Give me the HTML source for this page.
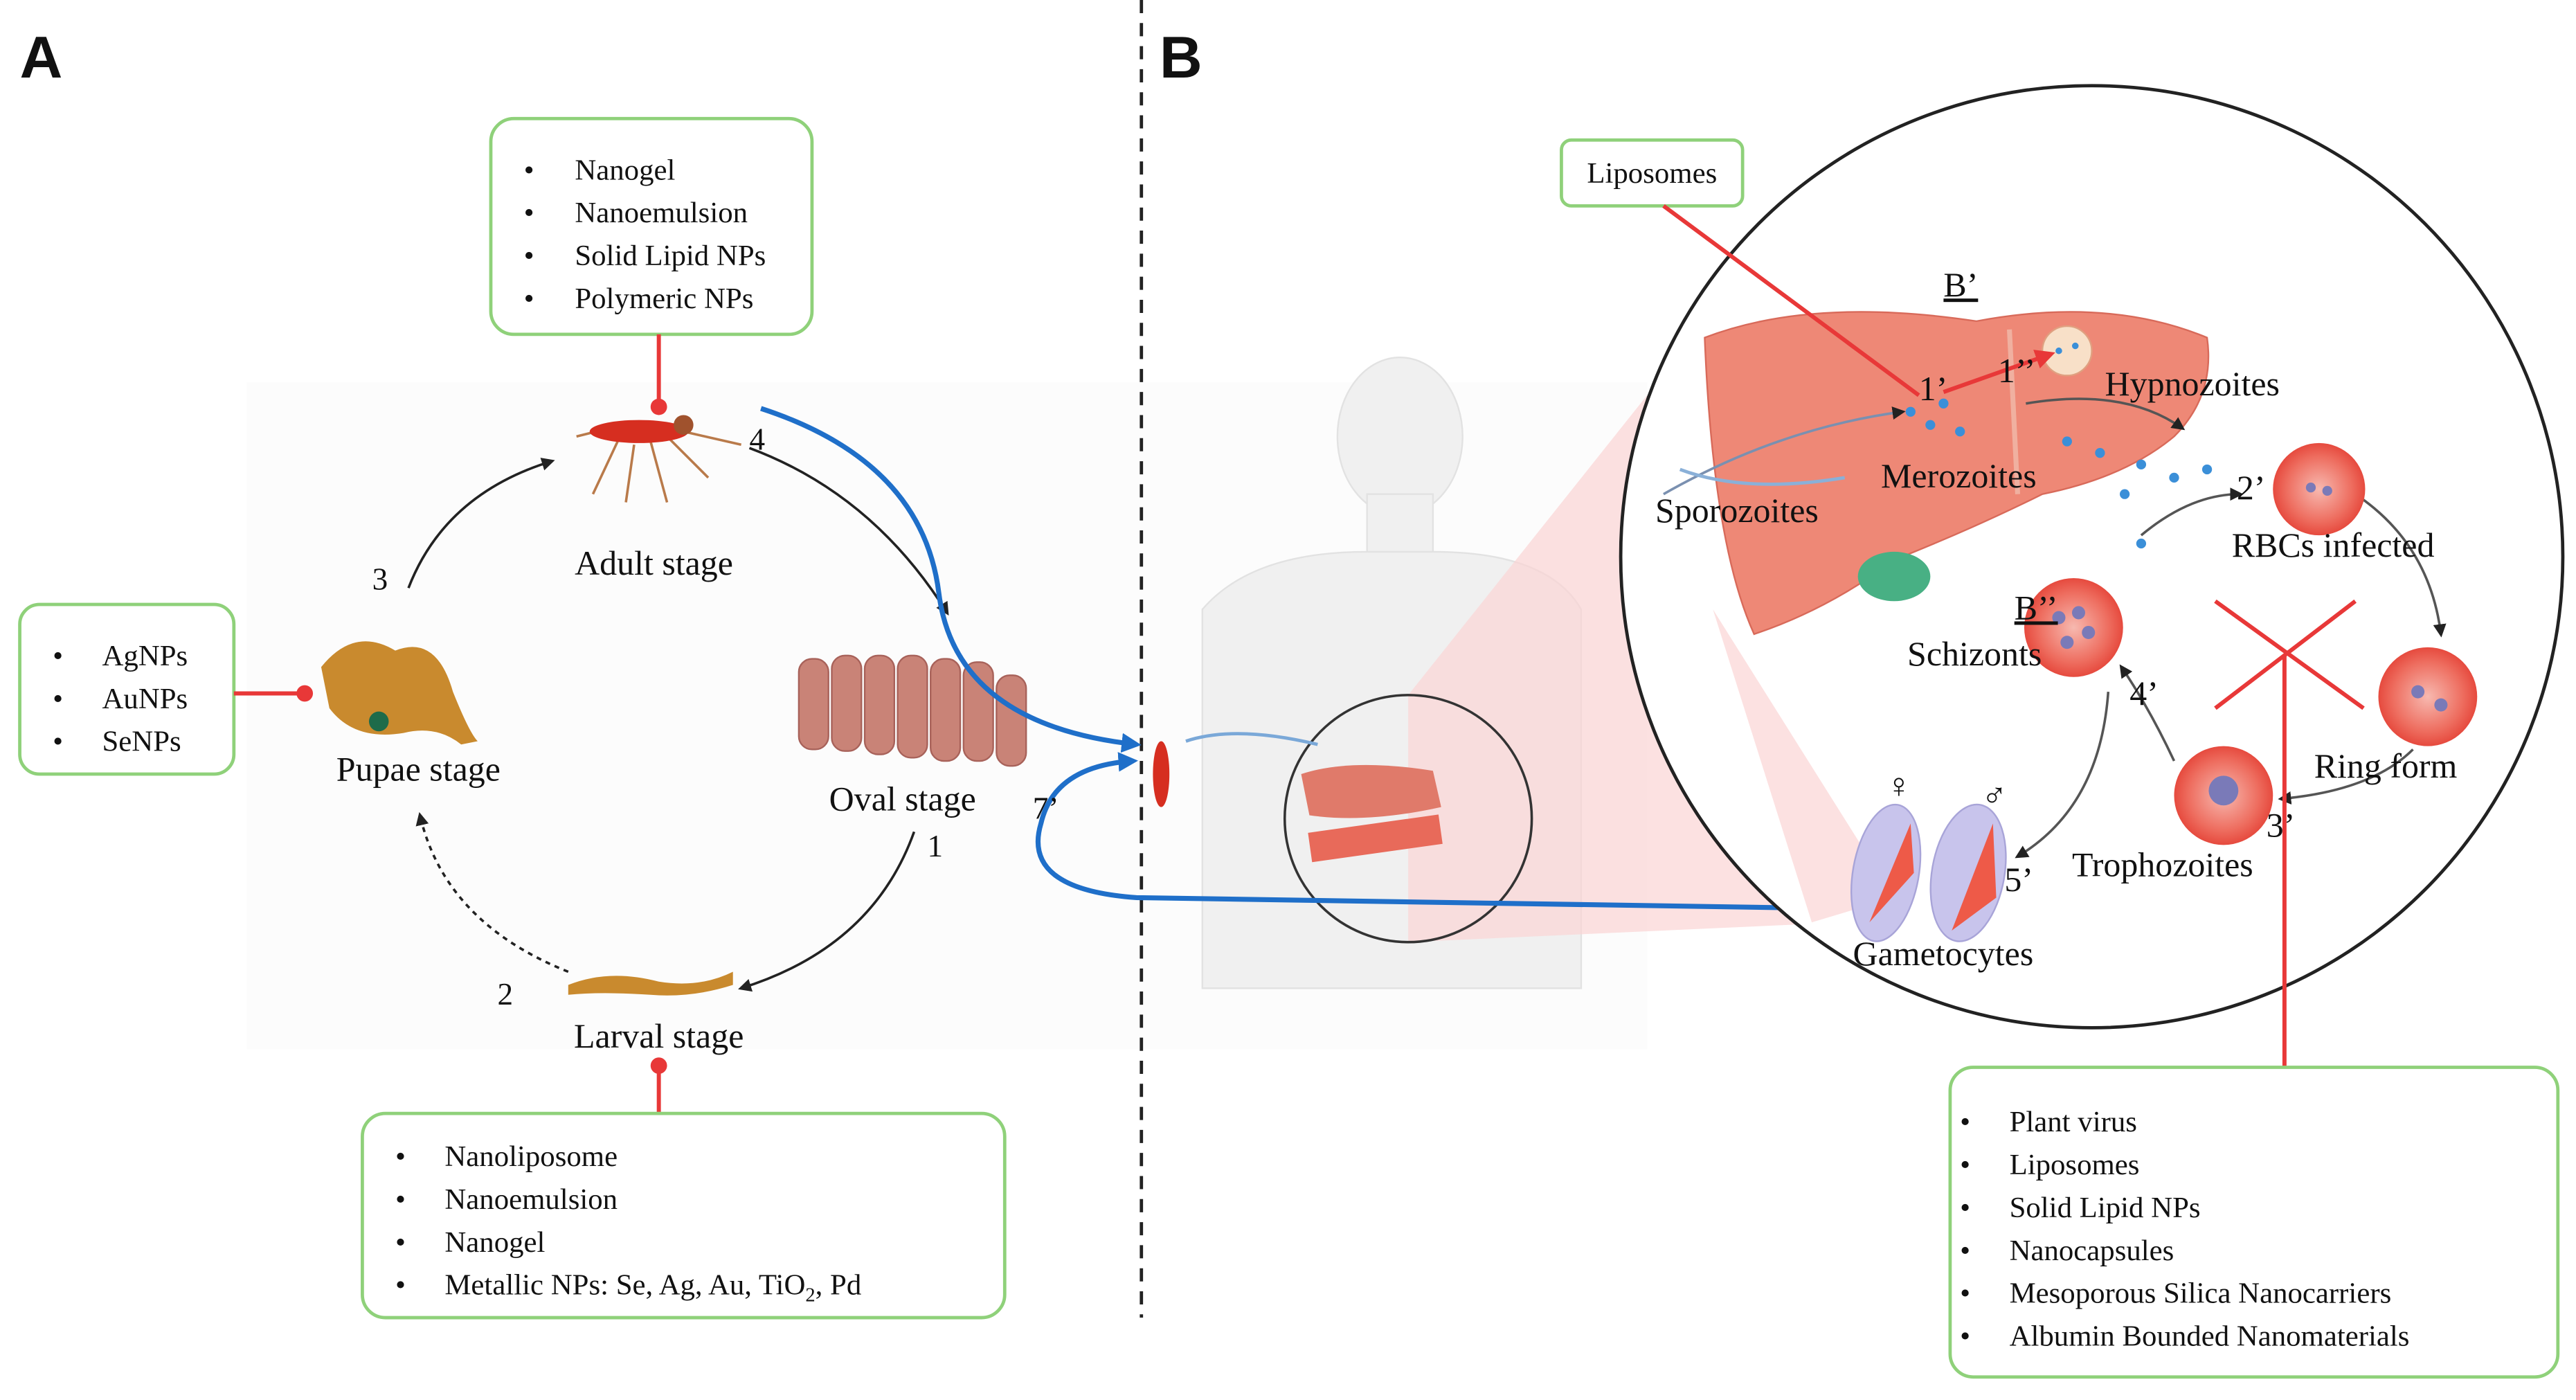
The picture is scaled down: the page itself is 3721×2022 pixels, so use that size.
<!DOCTYPE html>
<html><head><meta charset="utf-8"><style>
html,body{margin:0;padding:0;background:#fff;}
svg{display:block;}
text{font-family:"Liberation Serif",serif;fill:#111;}
</style></head><body>
<svg width="3721" height="2022" viewBox="0 0 1564 850" preserveAspectRatio="none" xmlns="http://www.w3.org/2000/svg">
<defs>
<marker id="ab" markerWidth="8" markerHeight="8" refX="6" refY="4" orient="auto" markerUnits="userSpaceOnUse"><path d="M0,0 L8,4 L0,8 z" fill="#222"/></marker>
<marker id="abl" markerWidth="12" markerHeight="12" refX="9" refY="6" orient="auto" markerUnits="userSpaceOnUse"><path d="M0,0 L12,6 L0,12 z" fill="#1f6fc9"/></marker>
<marker id="ar" markerWidth="12" markerHeight="12" refX="9" refY="6" orient="auto" markerUnits="userSpaceOnUse"><path d="M0,0 L12,6 L0,12 z" fill="#e83838"/></marker>
<radialGradient id="rbc"><stop offset="0" stop-color="#f7b9b0"/><stop offset="0.7" stop-color="#ee6e60"/><stop offset="1" stop-color="#e64a3e"/></radialGradient>
</defs>
<rect x="150" y="232" width="850" height="405" fill="#fcfcfc"/>
<text x="12" y="47" font-weight="bold" font-size="36" style="font-family:'Liberation Sans',sans-serif">A</text>
<text x="704" y="47" font-weight="bold" font-size="36" style="font-family:'Liberation Sans',sans-serif">B</text>
<line x1="693" y1="0" x2="693" y2="800" stroke="#222" stroke-width="2" stroke-dasharray="8,6"/>

<rect x="298" y="72" width="195" height="131" rx="14" fill="#fff" stroke="#8fd17a" stroke-width="2"/>
<g font-size="18"><text x="318" y="109">•</text><text x="349" y="109">Nanogel</text>
<text x="318" y="135">•</text><text x="349" y="135">Nanoemulsion</text>
<text x="318" y="161">•</text><text x="349" y="161">Solid Lipid NPs</text>
<text x="318" y="187">•</text><text x="349" y="187">Polymeric NPs</text></g>
<line x1="400" y1="203" x2="400" y2="247" stroke="#e83838" stroke-width="2.5"/><circle cx="400" cy="247" r="5" fill="#e83838"/>
<g stroke="#b97a4a" stroke-width="1.5" fill="none"><path d="M375,268 L360,300 M385,270 L380,305 M395,268 L405,305 M405,265 L430,290 M415,262 L450,270 M370,260 L350,265"/></g>
<ellipse cx="388" cy="262" rx="30" ry="7" fill="#d62e20"/><circle cx="415" cy="258" r="6" fill="#a0522d"/>
<text x="397" y="349" font-size="21" text-anchor="middle">Adult stage</text>
<text x="455" y="273" font-size="19">4</text><text x="226" y="358" font-size="19">3</text>
<text x="302" y="610" font-size="19">2</text><text x="563" y="520" font-size="19">1</text>
<path d="M248,357 Q270,300 335,280" stroke="#222" stroke-width="1.5" fill="none" marker-end="url(#ab)"/>
<path d="M455,272 Q530,300 575,372" stroke="#222" stroke-width="1.5" fill="none" marker-end="url(#ab)"/>
<path d="M555,505 Q530,575 450,600" stroke="#222" stroke-width="1.5" fill="none" marker-end="url(#ab)"/>
<path d="M345,590 Q270,560 255,495" stroke="#222" stroke-width="1.5" fill="none" stroke-dasharray="3,3" marker-end="url(#ab)"/>
<rect x="12" y="367" width="130" height="103" rx="12" fill="#fff" stroke="#8fd17a" stroke-width="2"/>
<g font-size="18"><text x="32" y="404">•</text><text x="62" y="404">AgNPs</text>
<text x="32" y="430">•</text><text x="62" y="430">AuNPs</text>
<text x="32" y="456">•</text><text x="62" y="456">SeNPs</text></g>
<line x1="142" y1="421" x2="185" y2="421" stroke="#e83838" stroke-width="2.5"/><circle cx="185" cy="421" r="5" fill="#e83838"/>
<path d="M195,405 Q215,380 240,395 Q265,385 275,420 Q285,445 290,450 L280,452 Q265,440 245,445 Q215,450 200,430 Z" fill="#c98a2e"/>
<circle cx="230" cy="438" r="6" fill="#1e6b4a"/>
<text x="254" y="474" font-size="21" text-anchor="middle">Pupae stage</text>
<g fill="#c98377" stroke="#a8625a" stroke-width="1">
<rect x="485" y="400" width="18" height="55" rx="8"/><rect x="505" y="398" width="18" height="58" rx="8"/><rect x="525" y="398" width="18" height="60" rx="8"/><rect x="545" y="398" width="18" height="62" rx="8"/><rect x="565" y="400" width="18" height="62" rx="8"/><rect x="585" y="402" width="18" height="60" rx="8"/><rect x="605" y="410" width="18" height="55" rx="8"/></g>
<text x="548" y="492" font-size="21" text-anchor="middle">Oval stage</text>
<path d="M345,598 Q370,588 400,596 Q425,600 445,590 L445,598 Q420,606 395,604 Q365,602 345,604Z" fill="#c98a2e"/>
<text x="400" y="636" font-size="21" text-anchor="middle">Larval stage</text>
<line x1="400" y1="645" x2="400" y2="676" stroke="#e83838" stroke-width="2.5"/><circle cx="400" cy="647" r="5" fill="#e83838"/>
<rect x="220" y="676" width="390" height="124" rx="14" fill="#fff" stroke="#8fd17a" stroke-width="2"/>
<g font-size="18"><text x="240" y="708">•</text><text x="270" y="708">Nanoliposome</text>
<text x="240" y="734">•</text><text x="270" y="734">Nanoemulsion</text>
<text x="240" y="760">•</text><text x="270" y="760">Nanogel</text>
<text x="240" y="786">•</text><text x="270" y="786">Metallic NPs: Se, Ag, Au, TiO<tspan font-size="12" dy="4">2</tspan><tspan dy="-4">, Pd</tspan></text></g>

<g fill="#f0f0f0" stroke="#e2e2e2" stroke-width="1">
<ellipse cx="850" cy="265" rx="38" ry="48"/>
<rect x="830" y="300" width="40" height="40"/>
<path d="M730,370 Q760,335 830,335 L870,335 Q940,335 960,370 L960,600 L730,600 Z"/></g>
<path d="M855,422 L1000,240 L1120,560 L855,572 Z" fill="#fbd4d4" opacity="0.7"/>
<circle cx="855" cy="497" r="75" fill="none" stroke="#333" stroke-width="1.5"/>
<path d="M790,470 Q820,460 870,468 L875,490 Q830,500 795,495 Z" fill="#e07a6a"/>
<rect x="795" y="500" width="80" height="18" fill="#e86a5a" transform="rotate(-8 835 509)"/>
<path d="M720,450 Q750,440 800,452" stroke="#7aa8d8" stroke-width="2" fill="none"/>
<ellipse cx="705" cy="470" rx="5" ry="20" fill="#d62e20"/>
<path d="M462,248 Q560,280 570,360 Q580,440 690,452" stroke="#1f6fc9" stroke-width="3" fill="none" marker-end="url(#abl)"/>
<path d="M1140,552 L690,545 Q620,540 632,500 Q640,465 688,462" stroke="#1f6fc9" stroke-width="3" fill="none" marker-end="url(#abl)"/>
<text x="627" y="497" font-size="19">7’</text>

<circle cx="1270" cy="338" r="286" fill="#fff" stroke="#222" stroke-width="2"/>
<path d="M1040,370 L1100,560 L1150,545 Z" fill="#fbd4d4" opacity="0.7"/>
<path d="M1035,205 Q1100,180 1200,195 Q1280,180 1340,205 Q1345,240 1320,265 Q1290,290 1240,300 Q1200,320 1150,340 Q1110,370 1065,385 Q1040,330 1035,205 Z" fill="#ee8876" stroke="#d86a5a" stroke-width="1"/>
<path d="M1220,200 L1225,300" stroke="#f0b0a0" stroke-width="3"/>
<ellipse cx="1150" cy="350" rx="22" ry="15" fill="#48b084"/>
<circle cx="1255" cy="213" r="15" fill="#f8e0c8" stroke="#e0a080"/>
<g fill="#3b8fd8"><circle cx="1160" cy="250" r="3"/><circle cx="1172" cy="258" r="3"/><circle cx="1180" cy="245" r="3"/><circle cx="1190" cy="262" r="3"/><circle cx="1255" cy="268" r="3"/><circle cx="1275" cy="275" r="3"/><circle cx="1300" cy="282" r="3"/><circle cx="1320" cy="290" r="3"/><circle cx="1290" cy="300" r="3"/><circle cx="1340" cy="285" r="3"/><circle cx="1300" cy="330" r="3"/><circle cx="1250" cy="213" r="2"/><circle cx="1260" cy="210" r="2"/></g>
<path d="M1010,300 Q1080,260 1155,250" stroke="#7a90b0" stroke-width="1.5" fill="none" marker-end="url(#ab)"/>
<path d="M1020,285 Q1060,300 1120,290" stroke="#8ab0d8" stroke-width="2" fill="none"/>
<path d="M1230,245 Q1290,235 1325,260" stroke="#555" stroke-width="1.5" fill="none" marker-end="url(#ab)"/>
<path d="M1300,325 Q1330,300 1360,300" stroke="#555" stroke-width="1.5" fill="none" marker-end="url(#ab)"/>
<path d="M1430,300 Q1475,330 1482,385" stroke="#555" stroke-width="1.5" fill="none" marker-end="url(#ab)"/>
<path d="M1465,455 Q1440,480 1385,485" stroke="#555" stroke-width="1.5" fill="none" marker-end="url(#ab)"/>
<path d="M1320,462 Q1305,430 1288,405" stroke="#555" stroke-width="1.5" fill="none" marker-end="url(#ab)"/>
<path d="M1280,420 Q1275,490 1225,520" stroke="#555" stroke-width="1.5" fill="none" marker-end="url(#ab)"/>
<rect x="948" y="85" width="110" height="40" rx="6" fill="#fff" stroke="#8fd17a" stroke-width="2"/>
<text x="1003" y="111" font-size="18" text-anchor="middle">Liposomes</text>
<line x1="1010" y1="125" x2="1165" y2="240" stroke="#e83838" stroke-width="2.5"/>
<line x1="1180" y1="238" x2="1245" y2="215" stroke="#e83838" stroke-width="2.5" marker-end="url(#ar)"/>
<circle cx="1408" cy="297" r="28" fill="url(#rbc)"/>
<circle cx="1259" cy="381" r="30" fill="url(#rbc)"/>
<circle cx="1474" cy="423" r="30" fill="url(#rbc)"/>
<circle cx="1350" cy="483" r="30" fill="url(#rbc)"/>
<g fill="#7a7ab8"><circle cx="1250" cy="375" r="4"/><circle cx="1262" cy="372" r="4"/><circle cx="1268" cy="384" r="4"/><circle cx="1255" cy="390" r="4"/><circle cx="1403" cy="296" r="3"/><circle cx="1413" cy="298" r="3"/><circle cx="1468" cy="420" r="4"/><circle cx="1482" cy="428" r="4"/><circle cx="1350" cy="480" r="9"/></g>
<ellipse cx="1145" cy="530" rx="20" ry="42" fill="#c8c4ec" stroke="#a8a4d8" transform="rotate(10 1145 530)"/>
<ellipse cx="1195" cy="530" rx="22" ry="42" fill="#c8c4ec" stroke="#a8a4d8" transform="rotate(10 1195 530)"/>
<path d="M1135,560 L1160,500 L1162,530 Z M1185,565 L1210,500 L1212,545 Z" fill="#ee5a48"/>
<line x1="1345" y1="365" x2="1435" y2="430" stroke="#e83838" stroke-width="2.5"/>
<line x1="1430" y1="365" x2="1345" y2="430" stroke="#e83838" stroke-width="2.5"/>
<line x1="1387" y1="398" x2="1387" y2="648" stroke="#e83838" stroke-width="2.5"/>
<g font-size="21">
<text x="1180" y="180" text-decoration="underline">B’</text>
<text x="1165" y="243">1’</text><text x="1213" y="232">1’’</text>
<text x="1278" y="240">Hypnozoites</text>
<text x="1005" y="317">Sporozoites</text>
<text x="1142" y="296">Merozoites</text>
<text x="1358" y="303">2’</text>
<text x="1355" y="338">RBCs infected</text>
<text x="1223" y="376" text-decoration="underline">B’’</text>
<text x="1158" y="404">Schizonts</text>
<text x="1293" y="428">4’</text>
<text x="1405" y="472">Ring form</text>
<text x="1376" y="508">3’</text>
<text x="1258" y="532">Trophozoites</text>
<text x="1217" y="541">5’</text>
<text x="1125" y="586">Gametocytes</text>
<text x="1145" y="484">♀</text><text x="1203" y="490">♂</text></g>
<rect x="1184" y="648" width="369" height="188" rx="14" fill="#fff" stroke="#8fd17a" stroke-width="2"/>
<g font-size="18"><text x="1190" y="687">•</text><text x="1220" y="687">Plant virus</text>
<text x="1190" y="713">•</text><text x="1220" y="713">Liposomes</text>
<text x="1190" y="739">•</text><text x="1220" y="739">Solid Lipid NPs</text>
<text x="1190" y="765">•</text><text x="1220" y="765">Nanocapsules</text>
<text x="1190" y="791">•</text><text x="1220" y="791">Mesoporous Silica Nanocarriers</text>
<text x="1190" y="817">•</text><text x="1220" y="817">Albumin Bounded Nanomaterials</text></g>
</svg>
</body></html>
